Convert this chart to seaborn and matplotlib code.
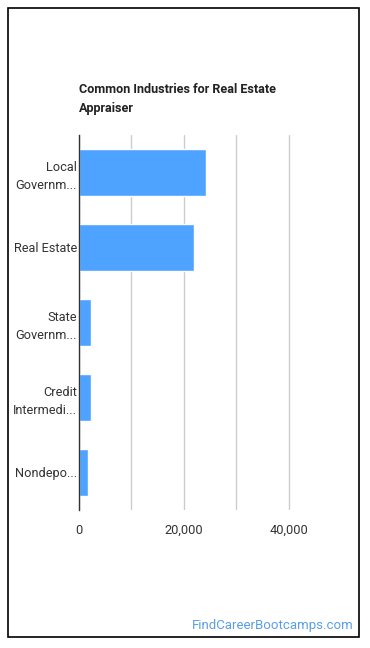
import matplotlib
matplotlib.use("Agg")
import matplotlib.pyplot as plt
import seaborn as sns
import pandas as pd
from matplotlib.patches import Rectangle

categories = ["Local\nGovernm...", "Real Estate", "State\nGovernm...", "Credit\nIntermedi...", "Nondepo..."]
values = [24200, 21900, 2350, 2350, 1800]
xticks = [0, 10000, 20000, 30000, 40000]
xtick_labels = ["0", "", "20,000", "", "40,000"]

sns.set_theme(style="white")
plt.rcParams['font.family'] = ['Roboto', 'DejaVu Sans']

W, H = 370, 648
fig = plt.figure(figsize=(W / 100, H / 100), dpi=100)
ax = fig.add_axes([79 / W, 1 - 510 / H, (341 - 79) / W, (510 - 135) / H])

df = pd.DataFrame({"cat": categories, "val": values})
sns.barplot(data=df, y="cat", x="val", color="#4da3ff", saturation=1, width=0.62, ax=ax, orient="h")

ax.set_xlim(0, 50000)
ax.set_xticks(xticks)
ax.set_xticklabels(xtick_labels)
ax.xaxis.grid(True, color="#cccccc", linewidth=1)
ax.set_axisbelow(True)
ax.set_xlabel("")
ax.set_ylabel("")
for s in ["top", "right", "bottom"]:
    ax.spines[s].set_visible(False)
ax.spines["left"].set_color("#333333")
ax.spines["left"].set_linewidth(1)
ax.tick_params(axis="both", length=0, labelsize=9.2, colors="#333333")
ax.tick_params(axis="y", pad=1.5)
ax.tick_params(axis="x", pad=10)
for lbl in ax.get_yticklabels():
    lbl.set_horizontalalignment("right")
    lbl.set_multialignment("right")
    lbl.set_linespacing(1.5)

fig.text(79 / W, 1 - 99 / H, "Common Industries for Real Estate\nAppraiser", fontsize=9.1,
         fontweight="bold", color="#222222", va="center", ha="left", linespacing=1.65)

fig.text(354 / W, 1 - 626 / H, "FindCareerBootcamps.com", fontsize=9.5, color="#5a9fe6",
         ha="right", va="center")

fig.patches.append(Rectangle((8 / W, 1 - 637 / H), (359 - 8) / W, (637 - 8) / H,
                             transform=fig.transFigure, fill=False, edgecolor="black", linewidth=1.2))

fig.savefig("out.png", dpi=100)
